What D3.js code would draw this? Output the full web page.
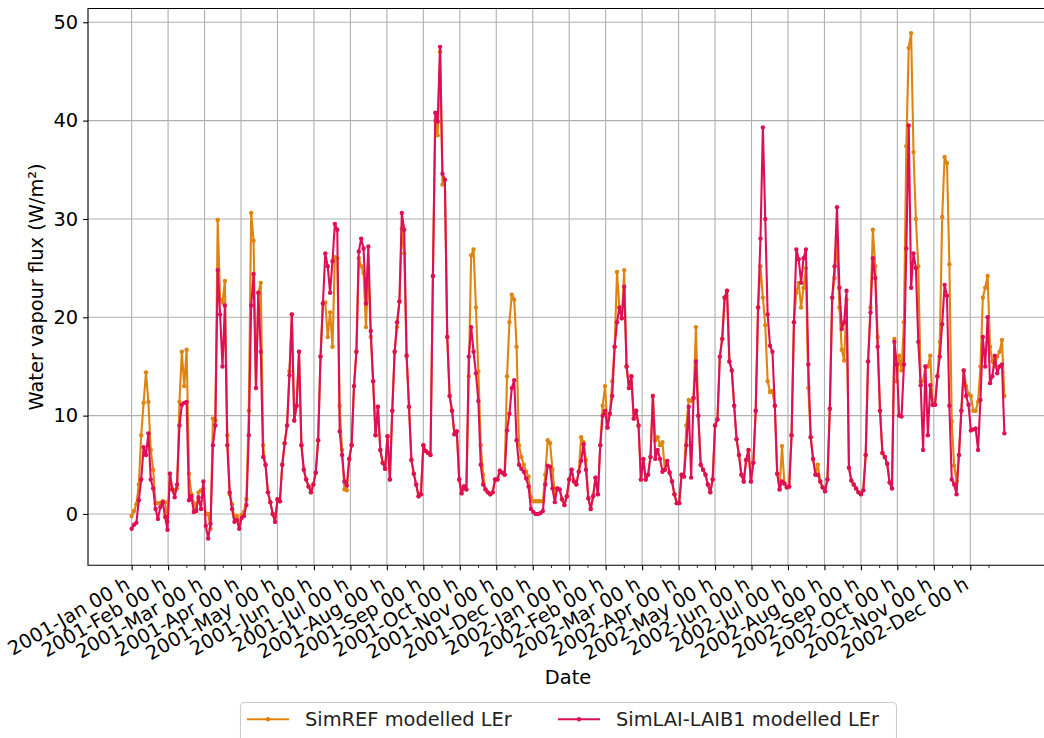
<!DOCTYPE html>
<html>
<head>
<meta charset="utf-8">
<script src="https://cdn.jsdelivr.net/npm/d3@7"></script>
<style>
  body { margin: 0; background: #fff; }
  svg { display: block; font-family: "DejaVu Sans", sans-serif; }
</style>
</head>
<body>
<svg width="1044" height="738"></svg>
<script>
// tick labels, one per month
const monthLabels = [
  "2001-Jan 00 h", "2001-Feb 00 h", "2001-Mar 00 h", "2001-Apr 00 h", "2001-May 00 h", "2001-Jun 00 h",
  "2001-Jul 00 h", "2001-Aug 00 h", "2001-Sep 00 h", "2001-Oct 00 h", "2001-Nov 00 h", "2001-Dec 00 h",
  "2002-Jan 00 h", "2002-Feb 00 h", "2002-Mar 00 h", "2002-Apr 00 h", "2002-May 00 h", "2002-Jun 00 h",
  "2002-Jul 00 h", "2002-Aug 00 h", "2002-Sep 00 h", "2002-Oct 00 h", "2002-Nov 00 h", "2002-Dec 00 h"
];
const yTicks = [0, 10, 20, 30, 40, 50];

// LEr values (W/m2), one every 2 days from 2001-Jan-01
const simRef = [
  -0.2,0.3,1.0,3.0,8.0,11.3,14.4,11.4,6.5,4.5,
  1.1,1.1,1.1,1.3,1.2,-0.8,4.1,2.5,2.4,2.6,
  11.4,16.5,13.0,16.7,4.1,2.0,1.1,0.5,2.2,2.4,
  2.6,0.0,0.0,-1.5,9.7,9.5,29.9,21.8,21.5,23.7,
  8.0,2.0,1.0,-0.3,-0.2,-1.0,-0.1,0.2,1.5,10.5,
  30.6,27.8,12.8,22.5,23.5,7.0,5.0,2.2,1.2,0.0,
  -0.8,1.5,1.3,5.0,7.2,9.0,14.5,20.3,9.5,11.0,
  16.5,7.0,4.5,3.5,2.8,2.2,3.0,4.2,7.5,16.0,
  21.4,21.5,18.0,20.5,17.0,26.1,26.0,11.0,6.5,2.5,
  2.4,5.6,7.0,13.0,16.5,26.0,25.2,24.5,19.0,25.0,
  18.0,13.5,8.0,10.9,6.5,5.2,4.6,7.9,3.5,10.5,
  16.5,19.0,21.6,29.0,26.5,16.1,10.9,5.5,4.1,3.0,
  1.8,2.0,7.0,6.4,6.2,6.0,24.2,40.0,38.5,47.0,
  33.5,34.0,18.0,12.0,10.5,8.1,8.4,3.5,2.1,2.8,
  2.5,14.0,26.3,26.9,21.0,14.5,7.0,4.0,2.5,2.2,
  2.0,2.2,3.5,3.5,4.4,4.2,4.0,14.0,19.5,22.3,
  21.8,17.0,7.0,5.8,5.0,4.3,3.8,1.7,1.3,1.3,
  1.3,1.3,1.3,4.0,7.5,7.2,4.5,2.0,2.6,2.5,
  1.5,0.9,1.8,3.5,4.5,3.3,3.0,4.3,7.8,7.3,
  5.5,1.6,0.5,1.8,3.7,2.0,7.0,11.0,13.0,8.8,
  10.2,13.5,17.0,24.6,21.0,19.9,24.8,15.0,12.8,14.0,
  9.7,10.5,9.0,3.5,5.6,3.5,4.0,5.8,12.0,7.5,
  7.8,7.0,7.3,4.5,5.4,4.2,3.3,2.0,1.1,1.1,
  4.0,3.8,9.0,11.6,11.5,11.8,19.0,10.0,5.0,4.5,
  4.0,3.0,2.2,3.5,9.0,9.6,16.0,17.8,22.0,22.7,
  15.5,14.6,11.0,7.6,6.0,4.0,3.3,5.5,6.5,3.3,
  5.2,10.5,21.0,25.2,22.0,19.2,13.5,12.4,12.5,11.0,
  4.1,2.5,6.9,3.1,2.7,2.8,8.0,19.5,22.5,23.5,
  21.0,23.0,25.0,12.8,7.8,5.6,4.0,5.0,3.3,2.7,
  2.3,3.5,10.7,22.0,24.0,28.0,21.0,16.7,15.6,21.8,
  4.7,3.4,3.0,2.6,2.2,2.0,2.4,6.0,15.5,21.0,
  28.9,25.2,18.0,10.5,6.2,5.8,5.1,3.2,2.6,17.8,
  13.5,16.1,14.6,19.5,37.4,47.4,48.9,36.8,30.0,25.2,
  13.5,13.5,15.0,15.0,16.1,11.1,11.1,14.0,17.5,30.2,
  36.3,35.7,25.4,9.4,4.9,3.3,6.0,10.5,14.6,13.0,
  12.2,12.0,10.5,10.5,11.4,15.0,22.0,23.0,24.2,17.0,
  15.5,15.0,16.0,16.5,17.7,12.0
];

const simLai = [
  -1.5,-1.1,-0.9,1.4,3.5,6.8,6.0,8.2,3.5,2.6,
  0.5,-0.5,0.7,1.2,-0.3,-1.6,4.1,2.5,1.7,3.0,
  9.0,11.1,11.3,11.4,1.4,1.8,0.2,0.3,1.7,0.5,
  3.3,-1.2,-2.5,-1.0,7.0,9.0,24.8,20.3,15.0,21.2,
  7.0,2.2,0.5,-0.8,-0.6,-1.5,-0.4,-0.2,0.9,8.0,
  21.2,24.4,12.8,22.5,16.5,5.8,5.0,2.2,1.2,0.0,
  -0.8,1.5,1.3,5.0,7.2,9.0,14.1,20.3,9.5,11.0,
  16.5,7.0,4.5,3.5,2.8,2.2,3.0,4.2,7.5,16.0,
  21.4,26.5,25.2,22.5,25.7,29.5,28.9,8.4,6.0,3.3,
  2.9,5.6,7.0,13.0,16.5,26.7,28.0,27.0,21.4,27.2,
  18.6,13.5,8.0,10.9,6.5,5.2,4.6,7.9,3.5,10.5,
  16.5,19.5,21.6,30.6,28.9,16.1,10.9,5.5,4.1,3.0,
  1.8,2.0,7.0,6.4,6.2,6.0,24.2,40.8,39.9,47.5,
  34.6,34.0,18.0,12.0,10.5,8.1,8.4,3.5,2.1,2.8,
  2.5,16.0,19.0,16.5,14.3,11.5,5.0,3.0,2.5,2.2,
  2.0,2.2,3.5,3.5,4.4,4.2,4.0,8.5,10.2,12.8,
  13.6,7.5,5.0,4.6,4.3,3.6,2.8,0.5,0.2,0.0,
  0.0,0.1,0.3,3.0,4.9,4.8,2.6,1.2,2.6,2.5,
  1.5,0.9,1.8,3.5,4.5,3.3,3.0,4.3,5.4,7.1,
  4.5,1.6,0.5,1.8,3.7,2.0,7.0,10.0,10.5,8.8,
  10.2,12.0,17.0,19.5,21.0,19.9,23.1,15.0,12.8,14.0,
  9.7,10.5,9.0,3.5,5.6,3.5,4.0,5.8,12.0,5.6,
  6.5,5.6,4.3,4.5,5.4,4.2,3.3,2.0,1.1,1.1,
  4.0,3.8,7.0,10.9,3.7,11.8,15.5,10.0,5.0,4.5,
  4.0,3.0,2.2,3.5,9.0,9.6,16.0,17.8,22.0,22.7,
  15.5,14.6,11.0,7.6,6.0,4.0,3.3,5.5,6.5,3.3,
  5.2,10.5,21.0,28.0,39.3,30.0,20.3,17.1,16.5,11.0,
  4.1,2.5,3.3,3.1,2.7,2.8,8.0,19.5,26.9,25.9,
  23.5,26.0,26.9,15.2,7.8,5.6,4.0,4.0,3.3,2.7,
  2.3,3.5,10.7,22.0,25.2,31.2,23.0,18.8,19.5,22.7,
  4.7,3.4,3.0,2.6,2.2,2.0,2.4,6.0,15.5,20.5,
  26.0,24.0,17.0,10.5,6.2,5.8,5.1,3.2,2.6,17.5,
  15.2,10.0,9.9,15.2,27.0,39.5,23.0,26.5,25.0,17.5,
  13.1,6.5,15.0,8.0,13.1,11.1,11.1,14.0,16.0,19.3,
  23.3,22.2,11.0,3.5,3.0,2.0,6.0,10.5,14.6,12.0,
  11.1,8.5,8.6,8.7,6.5,11.6,18.0,15.0,20.0,13.3,
  14.0,16.1,14.3,15.0,15.2,8.2
];

const dayStep = 2;       // days between two values
const monthStep = 30.5;  // days between two month ticks

const svg = d3.select("svg");
const width = +svg.attr("width");
const height = +svg.attr("height");

const plot = { left: 88, right: 1048, top: 8.5, bottom: 565.3 };
const fontSize = 19.4;
const orange = "#df8410";
const crimson = "#de0f58";

svg.append("rect")
  .attr("width", width)
  .attr("height", height)
  .attr("fill", "#fff");

const x = d3.scaleLinear()
  .domain([-36.5, 766.5])
  .range([plot.left, plot.right]);

const y = d3.scaleLinear()
  .domain([-5.22, 51.4])
  .range([plot.bottom, plot.top]);

const majorDays = monthLabels.map((d, i) => i * monthStep);
const minorDays = monthLabels.map((d, i) => (i + 0.5) * monthStep);

svg.append("clipPath")
  .attr("id", "clip")
  .append("rect")
  .attr("x", plot.left)
  .attr("y", plot.top)
  .attr("width", plot.right - plot.left)
  .attr("height", plot.bottom - plot.top);

// grid
const grid = svg.append("g")
  .attr("clip-path", "url(#clip)")
  .attr("stroke", "#b0b0b0")
  .attr("stroke-width", 1.1);

grid.selectAll("line.v")
  .data(majorDays)
  .join("line")
  .attr("class", "v")
  .attr("x1", d => x(d))
  .attr("x2", d => x(d))
  .attr("y1", plot.top)
  .attr("y2", plot.bottom);

grid.selectAll("line.h")
  .data(yTicks)
  .join("line")
  .attr("class", "h")
  .attr("x1", plot.left)
  .attr("x2", plot.right)
  .attr("y1", d => y(d))
  .attr("y2", d => y(d));

// series
const series = [
  { name: "SimREF modelled LEr", values: simRef, color: orange },
  { name: "SimLAI-LAIB1 modelled LEr", values: simLai, color: crimson }
];

const line = d3.line()
  .x((d, i) => x(i * dayStep))
  .y(d => y(d));

const marks = svg.append("g").attr("clip-path", "url(#clip)");

series.forEach(s => {
  const g = marks.append("g");
  g.append("path")
    .datum(s.values)
    .attr("fill", "none")
    .attr("stroke", s.color)
    .attr("stroke-width", 2.1)
    .attr("stroke-linejoin", "round")
    .attr("d", line);
  g.selectAll("circle")
    .data(s.values)
    .join("circle")
    .attr("cx", (d, i) => x(i * dayStep))
    .attr("cy", d => y(d))
    .attr("r", 2.2)
    .attr("fill", s.color);
});

// x axis
const xAxis = svg.append("g")
  .attr("transform", `translate(0,${plot.bottom})`)
  .call(d3.axisBottom(x)
    .tickValues(majorDays)
    .tickFormat((d, i) => monthLabels[i])
    .tickSize(4.9));

xAxis.select(".domain").remove();
xAxis.selectAll(".tick line").attr("stroke", "#000").attr("stroke-width", 1.1);
xAxis.selectAll(".tick text")
  .attr("x", 0)
  .attr("y", 0)
  .attr("dy", null)
  .attr("text-anchor", "end")
  .attr("transform", "translate(-1,22.5) rotate(-30)")
  .attr("fill", "#000")
  .style("font-size", fontSize + "px")
  .style("font-family", "DejaVu Sans");

const xMinor = svg.append("g")
  .attr("transform", `translate(0,${plot.bottom})`)
  .call(d3.axisBottom(x)
    .tickValues(minorDays)
    .tickFormat("")
    .tickSize(2.8));

xMinor.select(".domain").remove();
xMinor.selectAll(".tick line").attr("stroke", "#000").attr("stroke-width", 0.8);

// y axis
const yAxis = svg.append("g")
  .attr("transform", `translate(${plot.left},0)`)
  .call(d3.axisLeft(y)
    .tickValues(yTicks)
    .tickSize(4.9)
    .tickPadding(4.9));

yAxis.select(".domain").remove();
yAxis.selectAll(".tick line").attr("stroke", "#000").attr("stroke-width", 1.1);
yAxis.selectAll(".tick text")
  .attr("fill", "#000")
  .style("font-size", fontSize + "px")
  .style("font-family", "DejaVu Sans");

// spines
svg.append("path")
  .attr("d", `M${plot.right},${plot.top}H${plot.left}V${plot.bottom}H${plot.right}`)
  .attr("fill", "none")
  .attr("stroke", "#000")
  .attr("stroke-width", 1.1);

// axis titles
svg.append("text")
  .attr("x", (plot.left + plot.right) / 2)
  .attr("y", 684)
  .attr("text-anchor", "middle")
  .style("font-size", fontSize + "px")
  .text("Date");

svg.append("text")
  .attr("transform", `translate(43,${(plot.top + plot.bottom) / 2}) rotate(-90)`)
  .attr("text-anchor", "middle")
  .style("font-size", fontSize + "px")
  .text("Water vapour flux (W/m²)");

// legend
const legend = svg.append("g");

legend.append("rect")
  .attr("x", 240.5)
  .attr("y", 702.5)
  .attr("width", 656)
  .attr("height", 50)
  .attr("rx", 4)
  .attr("fill", "#fff")
  .attr("fill-opacity", 0.8)
  .attr("stroke", "#cccccc")
  .attr("stroke-width", 1.1);

const legendX = [247, 558];

const item = legend.selectAll("g.item")
  .data(series)
  .join("g")
  .attr("class", "item")
  .attr("transform", (d, i) => `translate(${legendX[i]},719.3)`);

item.append("line")
  .attr("x1", 0)
  .attr("x2", 42)
  .attr("stroke", d => d.color)
  .attr("stroke-width", 2.1);

item.append("circle")
  .attr("cx", 21)
  .attr("r", 2.2)
  .attr("fill", d => d.color);

item.append("text")
  .attr("x", 58)
  .attr("y", 7)
  .style("font-size", fontSize + "px")
  .attr("fill", "#222")
  .text(d => d.name);
</script>
</body>
</html>
